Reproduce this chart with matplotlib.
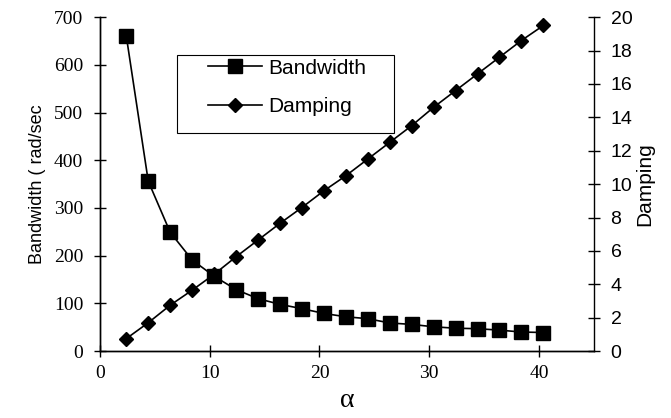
import matplotlib
matplotlib.use("Agg")
import matplotlib.pyplot as plt
from matplotlib.patches import Rectangle

alpha = [2.4, 4.4, 6.4, 8.4, 10.4, 12.4, 14.4, 16.4, 18.4, 20.4,
         22.4, 24.4, 26.4, 28.4, 30.4, 32.4, 34.4, 36.4, 38.4, 40.4]
bandwidth = [660, 356, 249, 191, 157, 129, 110, 98, 89, 79,
             72, 68, 59, 56, 51, 48, 47, 44, 40, 39]
damping = [0.75, 1.7, 2.75, 3.65, 4.6, 5.65, 6.65, 7.65, 8.6, 9.6,
           10.5, 11.5, 12.5, 13.5, 14.6, 15.6, 16.6, 17.6, 18.6, 19.5]

serif = "Liberation Serif"
sans = "Liberation Sans"

fig = plt.figure(figsize=(6.71, 4.18), dpi=100)
ax = fig.add_axes([0.149, 0.160, 0.736, 0.799])
ax2 = ax.twinx()

l1, = ax.plot(alpha, bandwidth, color="black", lw=1.2, marker="s",
              markersize=10, label="Bandwidth")
l2, = ax2.plot(alpha, damping, color="black", lw=1.2, marker="D",
               markersize=7.5, label="Damping")

ax.set_xlim(0, 45)
ax.set_ylim(0, 700)
ax2.set_ylim(0, 20)
ax.set_xticks([0, 10, 20, 30, 40])
ax.set_yticks(range(0, 701, 100))
ax2.set_yticks(range(0, 21, 2))

for a in (ax, ax2):
    a.spines["top"].set_visible(False)
    for s in a.spines.values():
        s.set_linewidth(1.0)
ax.spines["right"].set_visible(False)

ax.tick_params(axis="both", direction="inout", length=8, width=1.0)
ax.tick_params(axis="y", pad=8)
ax.tick_params(axis="x", pad=6)
ax2.tick_params(axis="y", direction="inout", length=8, width=1.0, pad=8)

for t in ax.get_xticklabels() + ax.get_yticklabels():
    t.set_fontfamily(serif)
    t.set_fontsize(14)
for t in ax2.get_yticklabels():
    t.set_fontfamily(sans)
    t.set_fontsize(14)

ax.set_xlabel("α", fontfamily=serif, fontsize=20, labelpad=4)
ax.set_ylabel("Bandwidth ( rad/sec", fontfamily=sans, fontsize=13, labelpad=6)
ax2.set_ylabel("Damping", fontfamily=sans, fontsize=15, labelpad=2)

# legend box drawn on its own, entries placed inside
ax2.add_patch(Rectangle((0.156, 0.653), 0.439, 0.233, transform=ax.transAxes,
                        fill=True, facecolor="white", edgecolor="black",
                        lw=0.8, zorder=4))
leg = ax2.legend(handles=[l1, l2], loc="upper left",
                 bbox_to_anchor=(0.219, 0.876),
                 prop={"family": sans, "size": 15}, frameon=False,
                 handlelength=2.6, handletextpad=0.3, labelspacing=0.95,
                 borderpad=0, borderaxespad=0)
leg.set_zorder(5)

fig.savefig("out.png", dpi=100)
